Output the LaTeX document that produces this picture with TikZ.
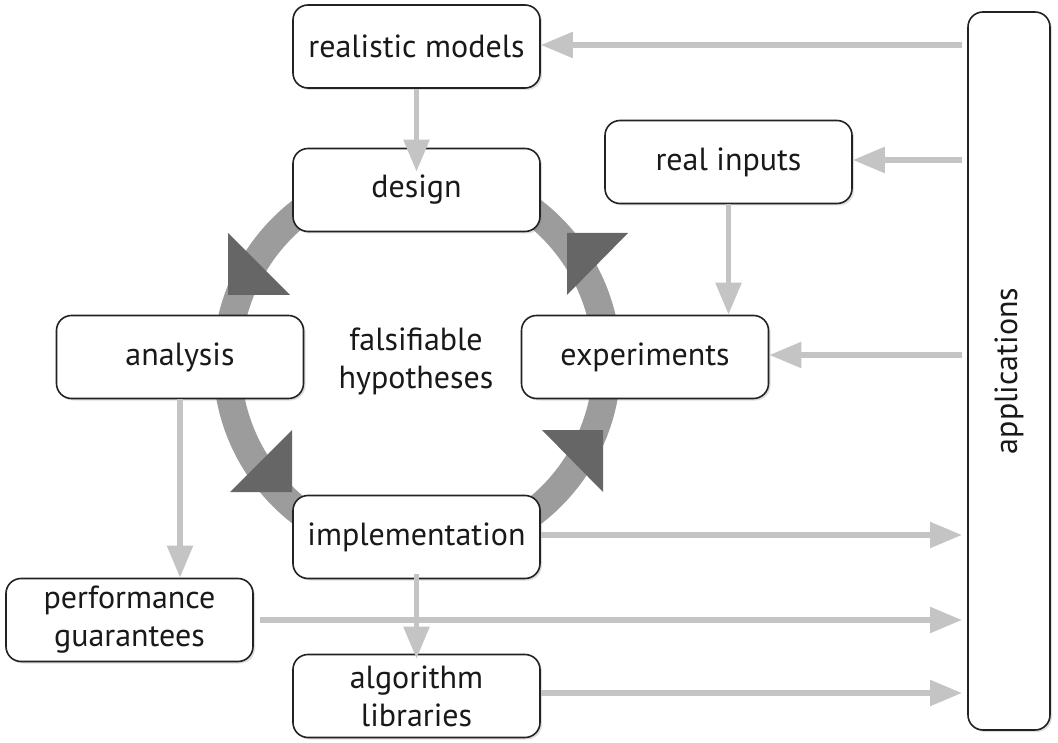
\documentclass[tikz,border=0pt]{standalone}
\usepackage{fontspec}
\setmainfont{PT Sans}
\usetikzlibrary{arrows.meta,shadows,calc}
\definecolor{ringgray}{HTML}{9C9C9C}
\definecolor{headgray}{HTML}{666666}
\definecolor{linkgray}{HTML}{C4C4C4}
\definecolor{boxline}{HTML}{222222}
\tikzset{
  txt/.style={font=\fontsize{32}{38}\selectfont, text=black!90},
  box/.style={draw=boxline, line width=1.6pt, fill=white, rounded corners=15pt,
    minimum width=247pt, minimum height=83pt, inner sep=0pt, align=center, txt,
    drop shadow={opacity=0.25, shadow xshift=2pt, shadow yshift=-2pt}},
  link/.style={draw=linkgray, line width=5.5pt, -{Triangle[length=32pt,width=25pt]}},
  ringstyle/.style={draw=ringgray, line width=28pt},
  head/.style={fill=headgray}
}
\begin{document}
\begin{tikzpicture}[x=1pt,y=-1pt]
\useasboundingbox (0,0) rectangle (1058,743);
% cycle ring
\draw[ringstyle] (417,362) circle[radius=190];
\fill[head] (567,233) -- (628,233) -- (567,295) -- cycle;
\fill[head] (228,233) -- (228,295) -- (290,295) -- cycle;
\fill[head] (292,430) -- (292,492) -- (230,492) -- cycle;
\fill[head] (542,430) -- (603,430) -- (603,492) -- cycle;
% nodes
\node[box] (models) at (416.5,46.5) {realistic models};
\node[box] (design) at (416.5,190) {design};
\node[box] (real) at (728.5,162) {real inputs};
\node[box] (analysis) at (180,357) {analysis};
\node[box] (exper) at (645,357) {experiments};
\node[box] (impl) at (416.5,537) {implementation};
\node[box] (perf) at (129.5,620) {performance\\guarantees};
\node[box] (algo) at (416.5,696) {algorithm\\libraries};
\node[box, minimum width=82pt, minimum height=718pt] (apps) at (1009,371) {};
\node[rotate=90, txt] (appstext) at (apps.center) {applications};
\node[align=center, txt] (hyp) at (416,361) {falsifiable\\hypotheses};
% coordinates at applications
\coordinate (a1) at (962,45);
\coordinate (a2) at (962,160);
\coordinate (a3) at (962,355);
\coordinate (a4) at (962,535);
\coordinate (a5) at (962,620);
\coordinate (a6) at (962,693);
% links
\draw[link] (a1) -- (a1 -| models.east);
\draw[link] (a2) -- (a2 -| real.east);
\draw[link] (a3) -- (a3 -| exper.east);
\draw[link] (a4 -| impl.east) -- (a4);
\draw[link, shorten <=6pt] (a5 -| perf.east) -- (a5);
\draw[link] (a6 -| algo.east) -- (a6);
\draw[link, shorten >=-24pt] (models.south) -- (design.north);
\draw[link] (real.south) -- (exper.north -| real.south);
\draw[link] (analysis.south) -- (perf.north -| analysis.south);
\draw[link, shorten <=-5pt, shorten >=-5pt] (impl.south) -- (algo.north);
\end{tikzpicture}
\end{document}
